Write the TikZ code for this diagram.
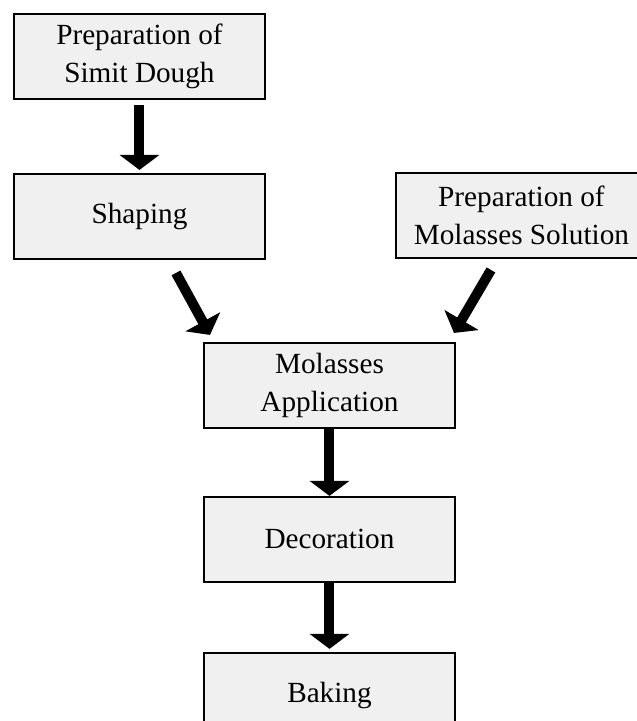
\documentclass[tikz,border=0pt]{standalone}
\usepackage{fontspec}
\setmainfont{Liberation Serif}
\usepackage{tikz}
\usetikzlibrary{positioning,arrows.meta}
\definecolor{boxgray}{RGB}{240,240,240}
\tikzset{stepbox/.style={rectangle,draw,fill=boxgray,line width=1.4pt,align=center,
		minimum width=6.275cm,minimum height=2.125cm,inner sep=0pt,
		font=\fontsize{20.8pt}{27pt}\selectfont},
	 flowarrow/.style={line width=0.25cm,-{Triangle[width=0.975cm,length=0.375cm]}},
	 node distance = 1.8cm
	 }

\begin{document}
\begin{tikzpicture} % simit production steps
	\node[stepbox] (dough) {Preparation of\\Simit Dough};
	\node[stepbox] (shaping) [below=1.825cm of dough] {Shaping};
	\node[stepbox] (molsol) [right=3.225cm of shaping,yshift=0.025cm] {Preparation of\\Molasses Solution};
	\node[stepbox] (molapp) [below=2.05cm of shaping,xshift=4.75cm] {Molasses\\Application};
	\node[stepbox] (decor) [below=1.675cm of molapp] {Decoration};
	\node[stepbox] (baking) [below=1.725cm of decor] {Baking};
	\draw [flowarrow,shorten <=0.125cm,shorten >=0.075cm] (dough) to (shaping);
	\draw [flowarrow] ([xshift=0.9125cm,yshift=-0.325cm]shaping.south) to ([xshift=0.175cm,yshift=0.175cm]molapp.north west);
	\draw [flowarrow] ([xshift=-0.7625cm,yshift=-0.275cm]molsol.south) to ([xshift=-0.05cm,yshift=0.225cm]molapp.north east);
	\draw [flowarrow] (molapp) to (decor);
	\draw [flowarrow,shorten >=0.075cm] (decor) to (baking);
	\pgfresetboundingbox
	\useasboundingbox ([shift={(-0.325cm,0.325cm)}]dough.north west) rectangle ++(15.9cm,-18.025cm);
\end{tikzpicture}
\end{document}
